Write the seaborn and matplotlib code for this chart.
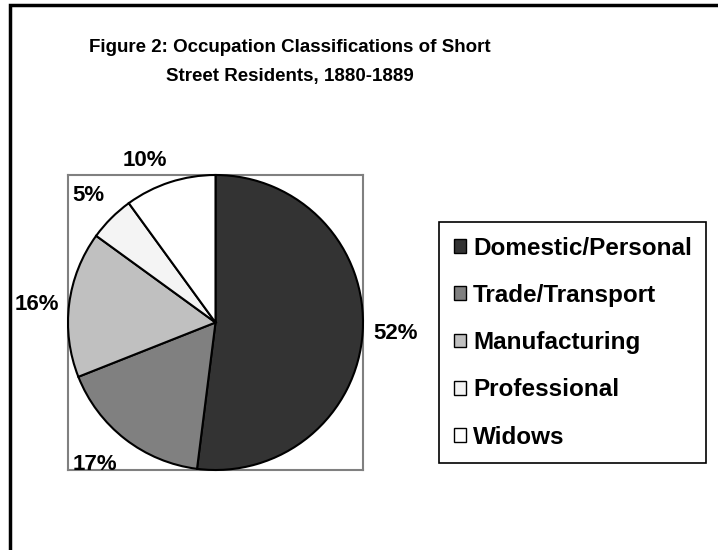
import matplotlib.pyplot as plt
import matplotlib.patches as mpatches
import seaborn as sns

categories = ['Domestic/Personal', 'Trade/Transport', 'Manufacturing', 'Professional', 'Widows']
shares = [52, 17, 16, 5, 10]
colors = ['#333333', '#808080', '#c0c0c0', '#f4f4f4', '#ffffff']

sns.set_theme(style='white')
plt.rcParams['font.family'] = ['Liberation Sans', 'DejaVu Sans']
plt.rcParams['font.weight'] = 'bold'
plt.rcParams['text.color'] = 'black'

fig = plt.figure(figsize=(7.18, 5.5), dpi=100)
# outer chart frame (runs off the right/bottom edge like the original)
fig.patches.append(mpatches.Rectangle((10 / 718, -0.05), 1.0, 1 - 5 / 550 + 0.05,
                                      transform=fig.transFigure, fill=False,
                                      edgecolor='black', linewidth=2.5))

ax = fig.add_axes([68 / 718, 1 - 470 / 550, 295 / 718, 295 / 550])
wedges, texts, autotexts = ax.pie(
    shares, colors=colors, startangle=90, counterclock=False,
    autopct='%d%%', pctdistance=1.22, radius=1.0, frame=True,
    wedgeprops=dict(edgecolor='black', linewidth=1.5, clip_on=False),
    textprops=dict(fontsize=16, fontweight='bold', color='black'))
ax.set_xlim(-1.0, 1.0)
ax.set_ylim(-1.0, 1.0)
ax.set_aspect('auto')
ax.set_xticks([])
ax.set_yticks([])
for s in ax.spines.values():
    s.set_visible(True)
    s.set_color('#808080')
    s.set_linewidth(1.5)
    s.set_zorder(0)

# small nudges of the percentage labels, as in the original
autotexts[1].set_x(autotexts[1].get_position()[0] - 0.07)
autotexts[2].set_y(autotexts[2].get_position()[1] - 0.03)
autotexts[4].set_x(autotexts[4].get_position()[0] - 0.1)
autotexts[4].set_y(autotexts[4].get_position()[1] - 0.06)

fig.text(290 / 718, 1 - 48 / 550, 'Figure 2: Occupation Classifications of Short',
         ha='center', va='center', fontsize=13.5, fontweight='bold', color='black')
fig.text(290 / 718, 1 - 77 / 550, 'Street Residents, 1880-1889',
         ha='center', va='center', fontsize=13.5, fontweight='bold', color='black')

handles = [mpatches.Patch(facecolor=c, edgecolor='black', linewidth=1) for c in colors]
leg = fig.legend(handles, categories, loc='upper left',
                 bbox_to_anchor=(439 / 718, 1 - 222 / 550),
                 prop=dict(size=17.5, weight='bold'), frameon=True, fancybox=False,
                 edgecolor='black', handlelength=0.5, handleheight=0.5,
                 handletextpad=0.3, labelspacing=1.0, borderpad=0.6,
                 borderaxespad=0, framealpha=1)
leg.get_frame().set_linewidth(1.2)
for t in leg.get_texts():
    t.set_color('black')

fig.savefig('out.png', dpi=100, facecolor='white')
